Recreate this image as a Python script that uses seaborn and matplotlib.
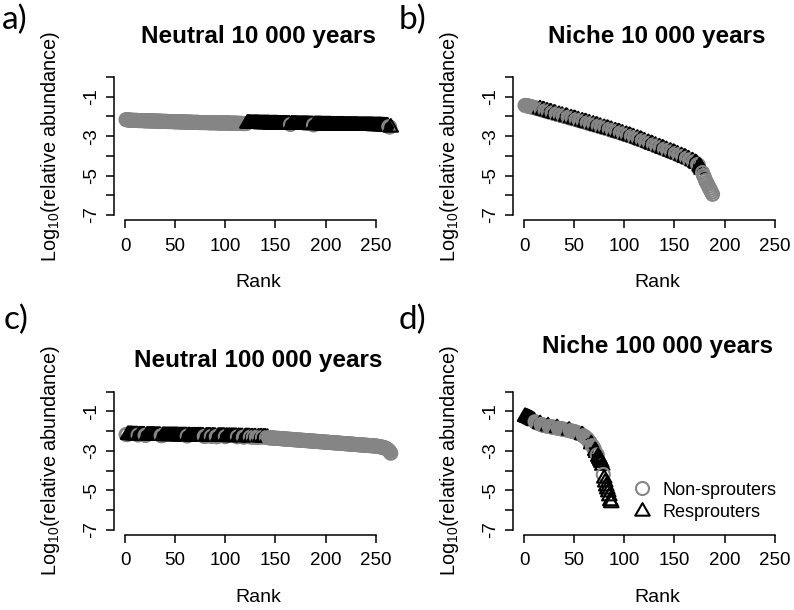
import matplotlib
matplotlib.use("Agg")
import matplotlib.pyplot as plt
from matplotlib.lines import Line2D
from matplotlib.path import Path
import pandas as pd
import seaborn as sns


# Log10(relative abundance) by rank
a_abund = [
    -2.16, -2.17, -2.18, -2.18, -2.19, -2.19, -2.19, -2.20, -2.20, -2.20,
    -2.20, -2.20, -2.21, -2.21, -2.21, -2.21, -2.21, -2.21, -2.22, -2.22,
    -2.22, -2.22, -2.22, -2.22, -2.23, -2.23, -2.23, -2.23, -2.23, -2.23,
    -2.24, -2.24, -2.24, -2.24, -2.24, -2.24, -2.25, -2.25, -2.25, -2.25,
    -2.25, -2.25, -2.26, -2.26, -2.26, -2.26, -2.26, -2.26, -2.27, -2.27,
    -2.27, -2.27, -2.27, -2.27, -2.28, -2.28, -2.28, -2.28, -2.28, -2.28,
    -2.29, -2.29, -2.29, -2.29, -2.29, -2.29, -2.30, -2.30, -2.30, -2.30,
    -2.30, -2.30, -2.30, -2.31, -2.31, -2.31, -2.31, -2.31, -2.31, -2.31,
    -2.31, -2.31, -2.32, -2.32, -2.32, -2.32, -2.32, -2.32, -2.32, -2.32,
    -2.32, -2.33, -2.33, -2.33, -2.33, -2.33, -2.33, -2.33, -2.33, -2.33,
    -2.33, -2.33, -2.33, -2.34, -2.34, -2.34, -2.34, -2.34, -2.34, -2.34,
    -2.34, -2.35, -2.35, -2.35, -2.35, -2.35, -2.36, -2.36, -2.36, -2.36,
    -2.36, -2.36, -2.36, -2.36, -2.37, -2.37, -2.37, -2.37, -2.37, -2.37,
    -2.37, -2.37, -2.37, -2.38, -2.38, -2.38, -2.38, -2.38, -2.38, -2.38,
    -2.38, -2.38, -2.38, -2.39, -2.39, -2.39, -2.39, -2.39, -2.39, -2.39,
    -2.39, -2.39, -2.40, -2.40, -2.40, -2.40, -2.40, -2.40, -2.40, -2.40,
    -2.40, -2.41, -2.41, -2.41, -2.41, -2.41, -2.41, -2.41, -2.41, -2.41,
    -2.41, -2.42, -2.42, -2.42, -2.42, -2.42, -2.42, -2.42, -2.42, -2.42,
    -2.42, -2.42, -2.43, -2.43, -2.43, -2.43, -2.43, -2.43, -2.43, -2.43,
    -2.43, -2.43, -2.43, -2.43, -2.43, -2.44, -2.44, -2.44, -2.44, -2.44,
    -2.44, -2.44, -2.44, -2.44, -2.44, -2.45, -2.45, -2.45, -2.45, -2.45,
    -2.45, -2.45, -2.45, -2.45, -2.45, -2.45, -2.45, -2.45, -2.46, -2.46,
    -2.46, -2.46, -2.46, -2.46, -2.46, -2.46, -2.46, -2.46, -2.46, -2.46,
    -2.46, -2.46, -2.47, -2.47, -2.47, -2.47, -2.47, -2.47, -2.47, -2.47,
    -2.47, -2.47, -2.47, -2.47, -2.47, -2.47, -2.48, -2.48, -2.48, -2.48,
    -2.48, -2.48, -2.48, -2.48, -2.48, -2.49, -2.49, -2.49, -2.50, -2.50,
    -2.50, -2.51, -2.52, -2.54, -2.56,
]
a_nonsprouters = list(range(1, 122)) + [165, 188, 263, 264]

b_abund = [
    -1.44, -1.45, -1.46, -1.47, -1.48, -1.50, -1.51, -1.52, -1.54, -1.55,
    -1.56, -1.58, -1.59, -1.60, -1.62, -1.63, -1.65, -1.67, -1.68, -1.70,
    -1.71, -1.73, -1.74, -1.76, -1.77, -1.79, -1.80, -1.82, -1.83, -1.85,
    -1.86, -1.87, -1.89, -1.90, -1.92, -1.93, -1.95, -1.96, -1.97, -1.99,
    -2.00, -2.01, -2.03, -2.04, -2.06, -2.07, -2.09, -2.10, -2.12, -2.13,
    -2.14, -2.16, -2.17, -2.19, -2.20, -2.22, -2.23, -2.25, -2.26, -2.28,
    -2.29, -2.31, -2.32, -2.34, -2.35, -2.37, -2.38, -2.40, -2.41, -2.43,
    -2.44, -2.46, -2.47, -2.49, -2.50, -2.52, -2.53, -2.55, -2.56, -2.58,
    -2.59, -2.61, -2.62, -2.64, -2.65, -2.67, -2.68, -2.70, -2.72, -2.73,
    -2.75, -2.76, -2.78, -2.80, -2.81, -2.83, -2.85, -2.86, -2.88, -2.90,
    -2.91, -2.93, -2.95, -2.96, -2.98, -3.00, -3.01, -3.03, -3.05, -3.07,
    -3.09, -3.11, -3.12, -3.14, -3.16, -3.18, -3.20, -3.22, -3.24, -3.26,
    -3.28, -3.30, -3.32, -3.34, -3.36, -3.38, -3.40, -3.42, -3.44, -3.46,
    -3.48, -3.50, -3.52, -3.54, -3.56, -3.58, -3.60, -3.62, -3.64, -3.66,
    -3.68, -3.70, -3.72, -3.74, -3.76, -3.78, -3.80, -3.82, -3.84, -3.86,
    -3.88, -3.90, -3.92, -3.94, -3.96, -3.99, -4.01, -4.03, -4.05, -4.08,
    -4.10, -4.12, -4.15, -4.17, -4.20, -4.22, -4.25, -4.27, -4.30, -4.33,
    -4.36, -4.40, -4.44, -4.48, -4.53, -4.60, -4.70, -4.85, -5.00, -5.10,
    -5.25, -5.35, -5.45, -5.55, -5.65, -5.75, -5.85, -5.95,
]
b_resprouters = [16, 19, 20, 23, 26, 27, 30, 31, 35, 38, 42, 43, 47, 50, 51,
                 54, 58, 61, 62, 65, 69, 72, 73, 76, 80, 83, 84, 87, 91, 94,
                 95, 98, 102, 105, 106, 109, 113, 116, 117, 120, 124, 127, 128,
                 131, 135, 138, 139, 142, 146, 149, 150, 153, 157, 160, 161,
                 164, 168, 171, 172, 175, 176, 177]
b_nonsprouters = [r for r in range(1, 189) if r not in b_resprouters]

c_abund = [
    -2.17, -2.18, -2.18, -2.19, -2.19, -2.19, -2.19, -2.20, -2.20, -2.20,
    -2.20, -2.20, -2.20, -2.21, -2.21, -2.21, -2.21, -2.21, -2.21, -2.21,
    -2.21, -2.22, -2.22, -2.22, -2.22, -2.22, -2.22, -2.22, -2.22, -2.23,
    -2.23, -2.23, -2.23, -2.23, -2.23, -2.23, -2.23, -2.23, -2.24, -2.24,
    -2.24, -2.24, -2.24, -2.24, -2.24, -2.24, -2.24, -2.24, -2.24, -2.24,
    -2.24, -2.24, -2.25, -2.25, -2.25, -2.25, -2.25, -2.25, -2.25, -2.25,
    -2.25, -2.25, -2.25, -2.25, -2.26, -2.26, -2.26, -2.26, -2.26, -2.26,
    -2.26, -2.26, -2.26, -2.26, -2.26, -2.26, -2.27, -2.27, -2.27, -2.27,
    -2.27, -2.27, -2.27, -2.27, -2.27, -2.27, -2.27, -2.27, -2.28, -2.28,
    -2.28, -2.28, -2.28, -2.28, -2.28, -2.28, -2.28, -2.28, -2.28, -2.28,
    -2.28, -2.29, -2.29, -2.29, -2.29, -2.29, -2.29, -2.29, -2.29, -2.29,
    -2.29, -2.29, -2.29, -2.30, -2.30, -2.30, -2.30, -2.30, -2.30, -2.30,
    -2.30, -2.30, -2.30, -2.30, -2.30, -2.31, -2.31, -2.31, -2.31, -2.31,
    -2.31, -2.31, -2.31, -2.31, -2.31, -2.31, -2.31, -2.32, -2.32, -2.32,
    -2.32, -2.33, -2.33, -2.34, -2.34, -2.34, -2.35, -2.35, -2.36, -2.36,
    -2.36, -2.37, -2.37, -2.37, -2.38, -2.38, -2.39, -2.39, -2.39, -2.40,
    -2.40, -2.41, -2.41, -2.41, -2.42, -2.42, -2.43, -2.43, -2.43, -2.44,
    -2.44, -2.45, -2.45, -2.45, -2.46, -2.46, -2.47, -2.47, -2.47, -2.48,
    -2.48, -2.48, -2.49, -2.49, -2.50, -2.50, -2.50, -2.51, -2.51, -2.52,
    -2.52, -2.52, -2.53, -2.53, -2.54, -2.54, -2.54, -2.55, -2.55, -2.56,
    -2.56, -2.56, -2.57, -2.57, -2.58, -2.58, -2.58, -2.59, -2.59, -2.60,
    -2.60, -2.60, -2.61, -2.61, -2.62, -2.62, -2.62, -2.63, -2.63, -2.64,
    -2.64, -2.64, -2.65, -2.65, -2.66, -2.66, -2.66, -2.67, -2.67, -2.68,
    -2.68, -2.68, -2.69, -2.69, -2.70, -2.70, -2.70, -2.71, -2.71, -2.72,
    -2.72, -2.72, -2.73, -2.73, -2.74, -2.74, -2.74, -2.75, -2.75, -2.76,
    -2.76, -2.77, -2.78, -2.79, -2.80, -2.81, -2.82, -2.83, -2.85, -2.87,
    -2.90, -2.94, -2.98, -3.04, -3.12,
]
c_nonsprouters = ([1, 2, 13, 20, 21, 36, 37, 62, 79, 80, 86, 91, 92, 100, 112,
                   118, 119, 125, 128, 131, 132, 134, 137, 141]
                  + list(range(143, 266)))

d_abund = [
    -1.27, -1.29, -1.31, -1.33, -1.35, -1.38, -1.40, -1.43, -1.46, -1.49,
    -1.52, -1.55, -1.58, -1.60, -1.62, -1.64, -1.66, -1.68, -1.69, -1.71,
    -1.72, -1.73, -1.74, -1.75, -1.76, -1.77, -1.78, -1.79, -1.80, -1.81,
    -1.82, -1.83, -1.84, -1.85, -1.86, -1.87, -1.88, -1.89, -1.90, -1.91,
    -1.92, -1.93, -1.94, -1.95, -1.97, -1.98, -1.99, -2.00, -2.02, -2.03,
    -2.04, -2.06, -2.08, -2.10, -2.12, -2.14, -2.17, -2.20, -2.23, -2.27,
    -2.31, -2.35, -2.40, -2.46, -2.52, -2.59, -2.66, -2.74, -2.82, -2.90,
    -3.00, -3.10, -3.20, -3.30, -3.40, -3.50, -3.60, -3.75, -4.20, -4.40,
    -4.60, -4.80, -4.95, -5.10, -5.30, -5.55, -5.65,
]
d_nonsprouters = ([11, 12, 13, 14, 15, 17, 18, 19, 20, 21, 22, 23, 25, 26, 27,
                   28, 29, 30, 31, 32, 34, 35, 36, 37, 38, 39, 40, 41, 42, 43,
                   44, 46, 47, 48, 49, 50, 51, 52, 53, 54, 55, 56, 57, 59, 60,
                   61, 62, 63, 64, 65, 66, 68, 69, 70, 73, 79])

titles = ["Neutral 10 000 years", "Niche 10 000 years",
          "Neutral 100 000 years", "Niche 100 000 years"]
letters = ["a)", "b)", "c)", "d)"]
groups = ["Non-sprouters", "Resprouters"]


sns.set_theme(style="ticks")
plt.rcParams["font.family"] = ["Liberation Sans", "DejaVu Sans"]
plt.rcParams["mathtext.fontset"] = "custom"
plt.rcParams["mathtext.rm"] = "Liberation Sans"
plt.rcParams["text.color"] = "black"
plt.rcParams["axes.labelcolor"] = "black"

grey = "#858585"
# R style open triangle (pch = 2), centred like R's
tri = Path([(0, 1.555), (1.347, -0.778), (-1.347, -0.778), (0, 1.555)], closed=True)
markers = {"Non-sprouters": "o", "Resprouters": tri}
palette = {"Non-sprouters": grey, "Resprouters": "black"}
sizes = {"Non-sprouters": 88, "Resprouters": 145}


def make_df(abund, nonsprouters):
    ranks = list(range(1, len(abund) + 1))
    ns = set(nonsprouters)
    kind = [groups[0] if r in ns else groups[1] for r in ranks]
    return pd.DataFrame({"rank": ranks, "abund": abund, "kind": kind})


W, H = 794, 610
fig = plt.figure(figsize=(W / 100, H / 100), dpi=100)

# axes boxes in pixels: left, top, width, height
boxes = [(114.4, 71.5, 287, 149), (513.4, 71.5, 287, 149),
         (114.4, 386.2, 287, 149), (513.4, 386.2, 287, 149)]
title_pos = [(258, 36), (657, 36), (258, 360), (657, 347)]
letter_pos = [(2, 20), (399, 20), (4, 320), (399, 320)]
datasets = [(a_abund, a_nonsprouters), (b_abund, b_nonsprouters),
            (c_abund, c_nonsprouters), (d_abund, d_nonsprouters)]

for i, (abund, ns) in enumerate(datasets):
    left, top, w, h = boxes[i]
    ax = fig.add_axes([left / W, 1 - (top + h) / H, w / W, h / H])
    df = make_df(abund, ns)

    sns.scatterplot(data=df, x="rank", y="abund", hue="kind", style="kind",
                    palette=palette, markers=markers, hue_order=groups,
                    style_order=groups, s=88, linewidth=1.5, legend=False, ax=ax)
    # open symbols, as in the R original
    pts = ax.collections[-1]
    pts.set_edgecolors(pts.get_facecolors())
    pts.set_facecolors("none")
    pts.set_sizes(df["kind"].map(sizes).values)

    ax.set_xlim(-10.6, 275.6)
    ax.set_ylim(-7.28, 0.28)
    ax.set_xticks([0, 50, 100, 150, 200, 250])
    ax.set_xticklabels(["0", "50", "100", "150", "200", "250"])
    ax.set_yticks([0, -1, -2, -3, -4, -5, -6, -7])
    ax.set_yticklabels(["", "-1", "", "-3", "", "-5", "", "-7"])
    for s in ["top", "right"]:
        ax.spines[s].set_visible(False)
    ax.spines["left"].set_bounds(-7, 0)
    ax.spines["bottom"].set_bounds(0, 250)
    for s in ["left", "bottom"]:
        ax.spines[s].set_linewidth(1.1)
        ax.spines[s].set_color("black")
    ax.tick_params(length=5.8, width=1.1, color="black", labelsize=13.5,
                   labelcolor="black", direction="out")
    ax.tick_params(axis="x", pad=6.5)
    ax.tick_params(axis="y", pad=4.5, labelrotation=90)
    for lab in ax.get_yticklabels():
        lab.set_va("center")
    ax.set_xlabel("Rank", fontsize=14, labelpad=14)
    ax.set_ylabel("Log$_\\mathregular{10}$(relative abundance)", fontsize=14.3,
                  labelpad=15)

    tx, ty = title_pos[i]
    fig.text(tx / W, 1 - ty / H, titles[i], ha="center", va="center",
             fontsize=17.5, fontweight="bold")
    lx, ly = letter_pos[i]
    fig.text(lx / W, 1 - ly / H, letters[i], ha="left", va="center",
             fontsize=24, family=["Lato", "DejaVu Sans"])

    if i == 3:
        handles = [
            Line2D([], [], marker="o", linestyle="none", markersize=sizes[groups[0]] ** 0.5,
                   markerfacecolor="none", markeredgecolor=grey, markeredgewidth=1.5),
            Line2D([], [], marker=tri, linestyle="none", markersize=sizes[groups[1]] ** 0.5,
                   markerfacecolor="none", markeredgecolor="black", markeredgewidth=1.5),
        ]
        ax.legend(handles, groups, loc="upper left", bbox_to_anchor=(0.417, 0.36),
                  frameon=False, fontsize=13, handlelength=1.0, handletextpad=0.65,
                  labelspacing=0.3, borderpad=0, borderaxespad=0)

fig.savefig("out.png", dpi=100)
